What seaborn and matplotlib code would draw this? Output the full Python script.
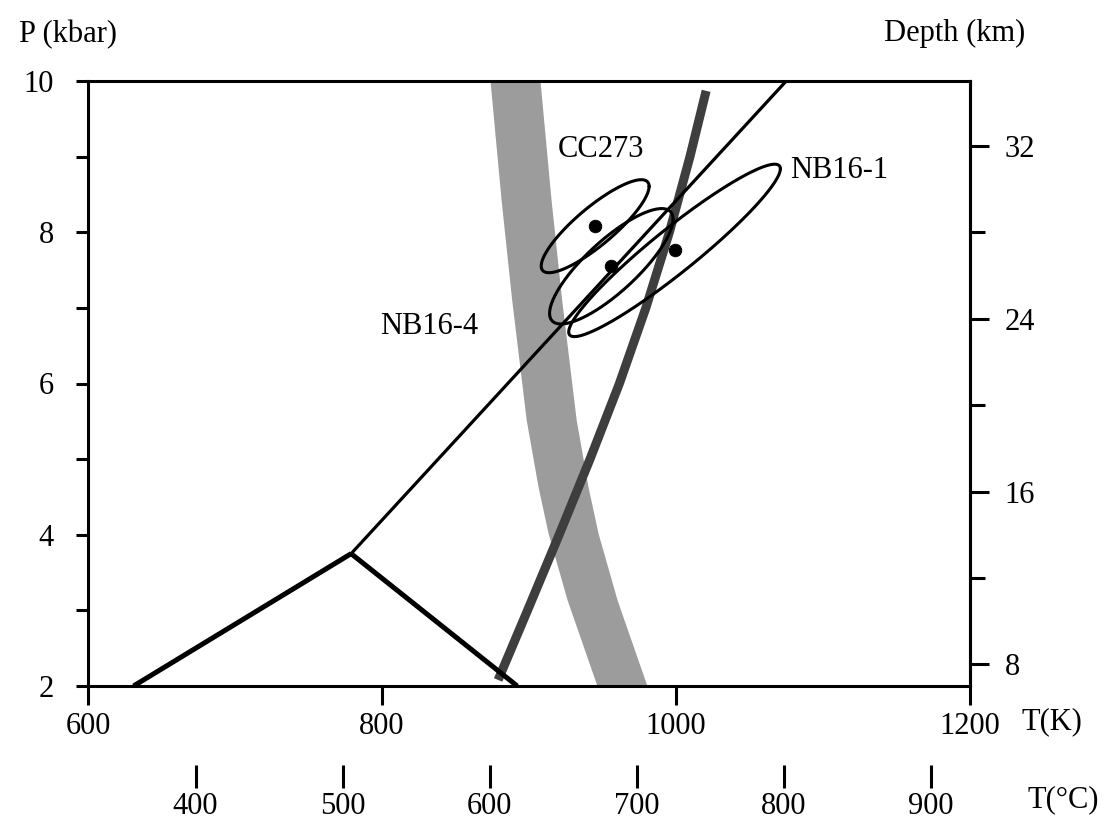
import numpy as np
import pandas as pd
import matplotlib
matplotlib.use("Agg")
import matplotlib.pyplot as plt
from matplotlib.ticker import FixedLocator, NullFormatter
import seaborn as sns

# ---------------- data (T in K, P in kbar) ----------------
# Al2SiO5 phase boundaries meeting at the triple point
ky_and_T = [631, 779]
ky_and_P = [2.0, 3.75]
and_sil_T = [779, 892]
and_sil_P = [3.75, 2.0]
ky_sil_T = [779, 1075]
ky_sil_P = [3.75, 10.0]

# dark grey reaction curve
dark_T = [879, 899, 920.5, 941.5, 961.5, 979.5, 995.5, 1009.5, 1020.5]
dark_P = [2.08, 3.0, 4.0, 5.0, 6.0, 7.0, 8.0, 9.0, 9.87]

# light grey band (centre line and half width in K)
band_P = [10.0, 8.43, 7.11, 5.52, 4.63, 4.02, 3.14, 2.0]
band_T = [890.5, 898.0, 905.2, 915.1, 923.2, 930.0, 942.9, 963.3]
band_halfwidth = 17

# samples: P-T estimates with correlated uncertainty ellipses
samples = ["CC273", "NB16-4", "NB16-1"]
sample_T = [945, 956, 999]
sample_P = [8.08, 7.55, 7.76]
sigma_T = [36.7, 42.0, 72.0]
sigma_P = [0.615, 0.763, 1.140]
rho = [0.855, 0.815, 0.946]
label_T = [949, 832, 1111]
label_P = [9.09, 6.76, 8.82]

T_ticks_K = [600, 800, 1000, 1200]
T_ticks_C = [400, 500, 600, 700, 800, 900]
P_major = [2, 4, 6, 8, 10]
P_minor = [3, 5, 7, 9]
depth_major = [8, 16, 24, 32]
depth_minor = [12, 20, 28]
km_per_kbar = 3.5

# ---------------- style ----------------
sns.set_theme(style="ticks", rc={
    "axes.edgecolor": "black", "xtick.color": "black", "ytick.color": "black",
    "text.color": "black", "axes.linewidth": 2.2,
})
plt.rcParams["font.family"] = ["Liberation Serif", "DejaVu Serif"]
FS = 22

W, H = 1112, 831
fig = plt.figure(figsize=(W / 100, H / 100), dpi=100)
fig.patch.set_facecolor("white")
ax = fig.add_axes([88 / W, 1 - 686 / H, 882 / W, 605 / H])

# light band
bT = np.array(band_T)
ax.fill_betweenx(band_P, bT - band_halfwidth, bT + band_halfwidth,
                 color="#9c9c9c", lw=0, zorder=1)

# dark reaction curve
sns.lineplot(x=dark_T, y=dark_P, sort=False, ax=ax, color="#3e3e3e",
             lw=6.5, solid_capstyle="butt", solid_joinstyle="round", zorder=2)

# phase boundaries
sns.lineplot(x=ky_and_T, y=ky_and_P, sort=False, ax=ax, color="black",
             lw=3.6, zorder=3, solid_capstyle="butt")
sns.lineplot(x=and_sil_T, y=and_sil_P, sort=False, ax=ax, color="black",
             lw=3.6, zorder=3, solid_capstyle="butt")
sns.lineplot(x=ky_sil_T, y=ky_sil_P, sort=False, ax=ax, color="black",
             lw=2.3, zorder=3, solid_capstyle="butt")

# uncertainty ellipses
t = np.linspace(0, 2 * np.pi, 240)
for T0, P0, sT, sP, r in zip(sample_T, sample_P, sigma_T, sigma_P, rho):
    eT = T0 + sT * np.cos(t)
    eP = P0 + sP * (r * np.cos(t) + np.sqrt(1 - r ** 2) * np.sin(t))
    ax.plot(eT, eP, color="black", lw=2.2, zorder=4)

sns.scatterplot(x=sample_T, y=sample_P, ax=ax, color="black", s=80,
                edgecolor="black", zorder=5, legend=False)

for name, lt, lp in zip(samples, label_T, label_P):
    ax.text(lt, lp, name, ha="center", va="center", fontsize=FS, zorder=6)

# axes
ax.set_xlim(600, 1200)
ax.set_ylim(2, 10)
ax.set_xticks(T_ticks_K)
ax.set_yticks(P_major)
ax.yaxis.set_minor_locator(FixedLocator(P_minor))
ax.yaxis.set_minor_formatter(NullFormatter())
ax.tick_params(axis="x", which="major", direction="out", length=14, width=2.2,
               pad=5, labelsize=FS)
ax.tick_params(axis="y", which="both", direction="out", length=8.5, width=2.2,
               pad=16, labelsize=FS)
ax.set_xlabel("")
ax.set_ylabel("")
for s in ax.spines.values():
    s.set_visible(True)
    s.set_linewidth(2.2)
    s.set_color("black")
ax.set_facecolor("white")

# secondary Celsius axis
secx = ax.secondary_xaxis(-0.13, functions=(lambda k: k - 273.15, lambda c: c + 273.15))
secx.set_xticks(T_ticks_C)
secx.spines["bottom"].set_visible(False)
secx.tick_params(direction="out", length=16.5, width=2.2, pad=3, labelsize=FS)

# secondary depth axis
secy = ax.secondary_yaxis("right", functions=(lambda p: p * km_per_kbar,
                                               lambda d: d / km_per_kbar))
secy.set_yticks(depth_major)
secy.yaxis.set_minor_locator(FixedLocator(depth_minor))
secy.yaxis.set_minor_formatter(NullFormatter())
secy.tick_params(which="major", direction="out", length=14, width=2.2, pad=11,
                 labelsize=FS)
secy.tick_params(which="minor", direction="out", length=10.5, width=2.2)
secy.spines["right"].set_linewidth(2.2)

# axis titles
fig.text(68 / W, 1 - 35 / H, "P (kbar)", ha="center", va="center", fontsize=FS)
fig.text(955 / W, 1 - 33 / H, "Depth (km)", ha="center", va="center", fontsize=FS)
fig.text(1052 / W, 1 - 722 / H, "T(K)", ha="center", va="center", fontsize=FS)
fig.text(1063 / W, 1 - 800 / H, "T(°C)", ha="center", va="center", fontsize=FS)

fig.savefig("out.png", dpi=100, facecolor="white")
